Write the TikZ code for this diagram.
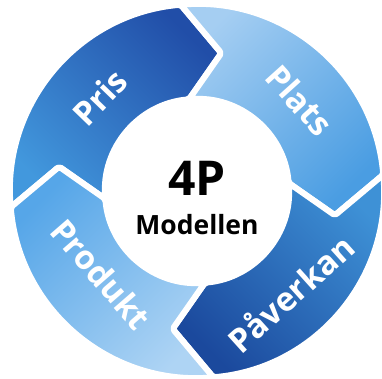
\documentclass[tikz,border=0pt]{standalone}
\usepackage{fontspec}
\setmainfont{Open Sans}
\usetikzlibrary{positioning}

\begin{document}
\begin{tikzpicture}[
        segment/.style={draw=white, line width=6pt, line join=round, rounded corners=2pt},
        seglabel/.style={text=white, inner sep=0pt, font=\bfseries\fontsize{33}{33}\selectfont},
        centertext/.style={inner sep=0pt, text=black, font=\bfseries},
    ]
    \newcommand{\arrowseg}[2]{% #1 = angle of the tip, #2 = shading
        \path[segment, #2] (#1+105:187pt) arc[start angle=#1+105, end angle=#1+15, radius=187pt]
            -- (#1:140pt) -- (#1+15:92pt) arc[start angle=#1+15, end angle=#1+105, radius=92pt]
            -- (#1+90:140pt) -- cycle;}
    \useasboundingbox (-197pt,-187pt) rectangle (185pt,191pt);

        % Arrows
        \arrowseg{80}{top color={rgb,255:red,33;green,78;blue,168}, bottom color={rgb,255:red,66;green,152;blue,221}, shading angle=-45}
        \arrowseg{-10}{top color={rgb,255:red,165;green,206;blue,242}, bottom color={rgb,255:red,74;green,157;blue,226}, shading angle=45}
        \arrowseg{-100}{top color={rgb,255:red,62;green,145;blue,214}, bottom color={rgb,255:red,27;green,73;blue,157}, shading angle=-45}
        \arrowseg{170}{top color={rgb,255:red,86;green,166;blue,232}, bottom color={rgb,255:red,174;green,212;blue,244}, shading angle=45}

        % Labels
        \node[seglabel, rotate=46] (pris) at (136:135pt) {Pris};
        \node[seglabel, rotate=-48] (plats) at (41.5:137pt) {Plats};
        \node[seglabel, rotate=42] (paverkan) at (-47.6:138pt) {Påverkan};
        \node[seglabel, rotate=-49] (produkt) at (221:127pt) {Produkt};

        % Centre
        \node[centertext, font=\bfseries\fontsize{48}{48}\selectfont] (title) at (0pt,13pt) {4P};
        \node[centertext, font=\bfseries\fontsize{26.5}{26.5}\selectfont, below=19pt of title] (subtitle) {Modellen};

    \end{tikzpicture}
\end{document}
